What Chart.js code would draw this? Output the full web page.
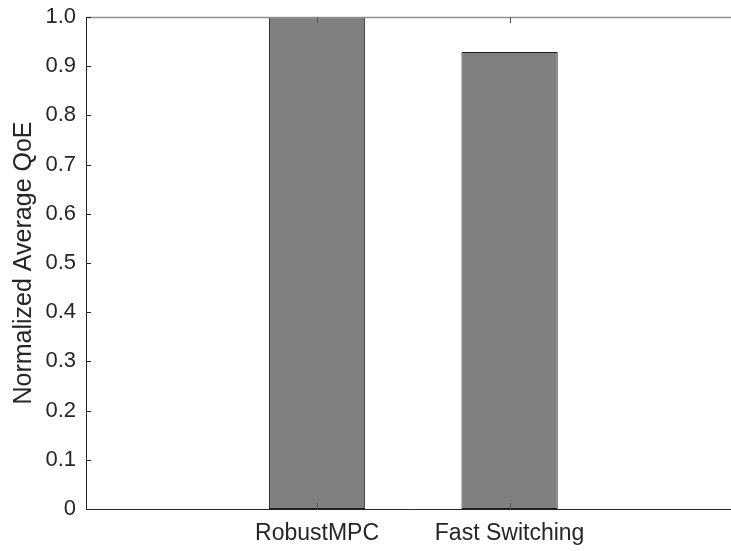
<!DOCTYPE html>
<html>
<head>
<meta charset="utf-8">
<title>Normalized Average QoE</title>
<script src="https://cdn.jsdelivr.net/npm/chart.js@4/dist/chart.umd.min.js"></script>
<style>
  html, body { margin: 0; padding: 0; background: #fff; }
  #wrap { width: 731px; height: 551px; }
</style>
</head>
<body>
<div id="wrap"><canvas id="qoeChart"></canvas></div>
<script>
// --- DATA ---
const categories = ['RobustMPC', 'Fast Switching'];
const positions = [1, 2];
const qoeValues = [1.0, 0.929];
const yTicks = [0, 0.1, 0.2, 0.3, 0.4, 0.5, 0.6, 0.7, 0.8, 0.9, 1.0];

const INK = '#262626';
const FONT = 'Liberation Sans, Arial, sans-serif';

// MATLAB style box: inward ticks, light top edge
const matlabAxes = {
  id: 'matlabAxes',
  afterDatasetsDraw(chart) {
    const { ctx, chartArea: a, scales: { x, y } } = chart;
    ctx.save();
    // top edge
    ctx.strokeStyle = '#8f8f8f';
    ctx.lineWidth = 1.5;
    ctx.beginPath();
    ctx.moveTo(a.left, a.top + 0.5);
    ctx.lineTo(a.right, a.top + 0.5);
    ctx.stroke();
    // left + bottom
    ctx.strokeStyle = INK;
    ctx.lineWidth = 1;
    ctx.beginPath();
    ctx.moveTo(a.left + 0.5, a.top);
    ctx.lineTo(a.left + 0.5, a.bottom + 0.5);
    ctx.lineTo(a.right, a.bottom + 0.5);
    ctx.stroke();
    // y ticks
    ctx.beginPath();
    yTicks.forEach(v => {
      const py = Math.round(y.getPixelForValue(v)) + 0.5;
      ctx.moveTo(a.left, py);
      ctx.lineTo(a.left + 5, py);
    });
    ctx.stroke();
    // x ticks bottom & top
    ctx.beginPath();
    positions.forEach(v => {
      const px = Math.round(x.getPixelForValue(v)) + 0.5;
      ctx.moveTo(px, a.bottom);
      ctx.lineTo(px, a.bottom - 6);
      ctx.moveTo(px, a.top);
      ctx.lineTo(px, a.top + 6);
    });
    ctx.strokeStyle = '#555';
    ctx.stroke();
    ctx.restore();
  }
};

const ctx = document.getElementById('qoeChart').getContext('2d');
new Chart(ctx, {
  type: 'bar',
  data: {
    datasets: [{
      data: positions.map((p, i) => ({ x: p, y: qoeValues[i] })),
      backgroundColor: '#808080',
      borderColor: '#1a1a1a',
      borderWidth: 1,
      borderSkipped: false,
      barPercentage: 0.5,
      categoryPercentage: 1.0
    }]
  },
  options: {
    responsive: true,
    maintainAspectRatio: false,
    animation: false,
    layout: { padding: { top: 17, right: 0, left: 0, bottom: 0 } },
    plugins: { legend: { display: false }, tooltip: { enabled: false } },
    scales: {
      x: {
        type: 'linear',
        offset: false,
        min: -0.2,
        max: 3.15,
        afterBuildTicks: s => { s.ticks = positions.map(v => ({ value: v })); },
        afterFit: s => { s.height = 42; s.paddingLeft = 0; s.paddingRight = 0; },
        grid: { display: false, drawTicks: false },
        border: { display: false },
        ticks: {
          padding: 11,
          color: INK,
          maxRotation: 0,
          font: { family: FONT, size: 23 },
          callback: v => categories[positions.indexOf(v)] || ''
        }
      },
      y: {
        min: 0,
        max: 1,
        afterBuildTicks: s => { s.ticks = yTicks.map(v => ({ value: v })); },
        afterFit: s => { s.width = 86; s.paddingTop = 0; s.paddingBottom = 0; },
        grid: { display: false, drawTicks: false },
        border: { display: false },
        title: {
          display: true,
          text: 'Normalized Average QoE',
          color: INK,
          padding: { top: 9, bottom: 0 },
          font: { family: FONT, size: 25 }
        },
        ticks: {
          padding: 10,
          color: INK,
          font: { family: FONT, size: 22 },
          callback: v => v === 0 ? '0' : v.toFixed(1)
        }
      }
    }
  },
  plugins: [matlabAxes]
});
</script>
</body>
</html>
